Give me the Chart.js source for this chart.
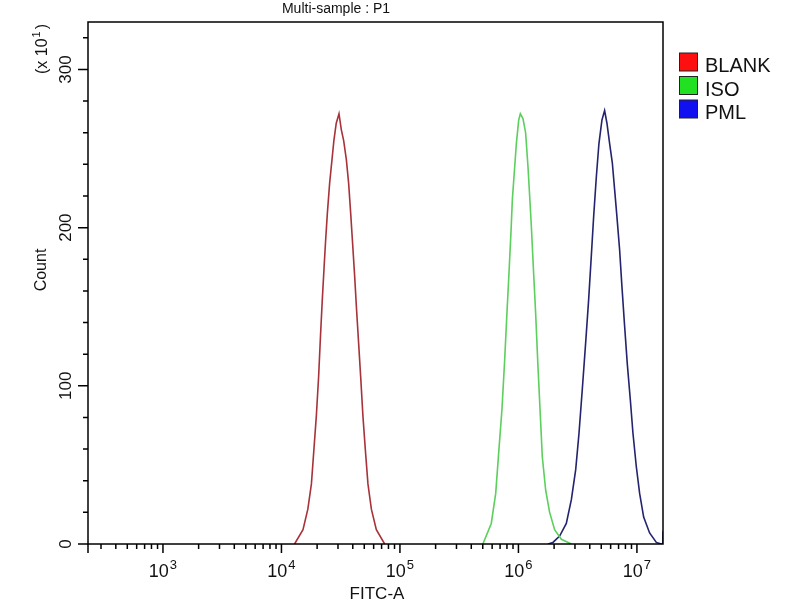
<!DOCTYPE html>
<html>
<head>
<meta charset="utf-8">
<script src="https://cdn.jsdelivr.net/npm/chart.js@4.4.1/dist/chart.umd.min.js"></script>
<style>
  html, body { margin: 0; padding: 0; background: #fff; }
  #wrap { width: 800px; height: 600px; }
</style>
</head>
<body>
<div id="wrap"><canvas id="chart" width="800" height="600"></canvas></div>
<script>
// values (FITC-A intensity, count in units of 10)
const blankX = [12900, 15200, 16700, 17900, 18800, 19700, 20600, 21400, 22100, 22900, 23600, 24400,
  25500, 26700, 27700, 29000, 30600, 32000, 33500, 35300, 36900, 38400, 39700, 41500, 42900, 44800,
  46600, 48700, 51000, 53700, 57400, 63200, 74300]
const blankCount = [0, 9, 22, 38, 60, 81, 106, 133, 154, 175, 192, 209,
  228, 243, 255, 266, 272, 262, 255, 243, 228, 209, 192, 169, 150, 127,
  106, 81, 60, 38, 22, 9, 0]

const isoX = [501000, 590000, 643000, 685000, 726000, 765000, 800000, 832000, 865000, 889000, 917000,
  960000, 1005000, 1038000, 1092000, 1150000, 1203000, 1244000, 1285000, 1344000, 1397000, 1462000,
  1531000, 1591000, 1698000, 1834000, 2021000, 2303000, 2797000]
const isoCount = [0, 13, 32, 60, 85, 116, 146, 171, 197, 218, 232,
  253, 268, 272, 269, 260, 239, 220, 201, 171, 146, 112,
  81, 55, 34, 20, 9, 3, 0]

const pmlX = [1774000, 1955000, 2227000, 2536000, 2797000, 3043000, 3245000, 3461000, 3691000, 3910000,
  4121000, 4314000, 4544000, 4778000, 5066000, 5337000, 5585000, 5888000, 6200000, 6484000, 6780000,
  7145000, 7470000, 7870000, 8290000, 8800000, 9260000, 9880000, 10540000, 11400000, 12800000,
  14580000, 16060000, 16550000, 16600000]
const pmlCount = [0, 1, 5, 13, 28, 47, 70, 98, 127, 154,
  182, 207, 232, 253, 268, 274, 266, 253, 241, 224, 207,
  186, 163, 138, 114, 91, 70, 49, 32, 17, 7,
  1, 0, 0, 8]

const seriesNames = ["BLANK", "ISO", "PML"]
const lineColors = ["#a8323a", "#5ccf5c", "#23236e"]
const swatchColors = ["#ff1010", "#22e022", "#1010f0"]

const yTicks = [0, 20, 40, 60, 80, 100, 120, 140, 160, 180, 200, 220, 240, 260, 280, 300, 320]
const yTickLabels = ["0", "100", "200", "300"]
const xTickExps = [3, 4, 5, 6, 7]

const FONT = '"Liberation Sans", Arial, sans-serif'

const toPoints = (xs, ys) => xs.map((v, i) => ({ x: v, y: ys[i] }))

function drawPow(ctx, base, exp, x, y, size, align) {
  ctx.font = size + "px " + FONT
  const wb = ctx.measureText(base).width
  ctx.font = Math.round(size * 0.7) + "px " + FONT
  const we = ctx.measureText(exp).width
  const start = align === "center" ? x - (wb + we + 1) / 2 : x
  ctx.textAlign = "left"
  ctx.font = size + "px " + FONT
  ctx.fillText(base, start, y)
  ctx.font = Math.round(size * 0.7) + "px " + FONT
  ctx.fillText(exp, start + wb + 1, y - size * 0.45)
}

const cytoAxes = {
  id: "cytoAxes",
  afterDraw(chart) {
    const { ctx, chartArea: a, scales: { x, y } } = chart
    ctx.save()
    ctx.strokeStyle = "#000"
    ctx.fillStyle = "#111"
    ctx.lineWidth = 1.5
    ctx.strokeRect(a.left, a.top, a.right - a.left, a.bottom - a.top)

    // x ticks, log decades with minor ticks
    ctx.beginPath()
    ctx.moveTo(a.left, a.bottom)
    ctx.lineTo(a.left, a.bottom + 9)
    for (let e = 2; e <= 7; e++) {
      for (let m = 1; m <= 9; m++) {
        const v = m * Math.pow(10, e)
        if (v < x.min || v > x.max) continue
        const px = x.getPixelForValue(v)
        ctx.moveTo(px, a.bottom)
        ctx.lineTo(px, a.bottom + (m === 1 ? 9 : 5))
      }
    }
    // y ticks
    yTicks.forEach(v => {
      const py = y.getPixelForValue(v)
      ctx.moveTo(a.left, py)
      ctx.lineTo(a.left - (v % 100 === 0 ? 10 : 5), py)
    })
    ctx.stroke()

    ctx.textBaseline = "alphabetic"
    xTickExps.forEach(e => {
      drawPow(ctx, "10", String(e), x.getPixelForValue(Math.pow(10, e)), 577, 18, "center")
    })

    // rotated y labels
    yTickLabels.forEach(t => {
      ctx.save()
      ctx.translate(71, y.getPixelForValue(Number(t)))
      ctx.rotate(-Math.PI / 2)
      ctx.font = "17px " + FONT
      ctx.textAlign = "center"
      ctx.fillText(t, 0, 0)
      ctx.restore()
    })

    ctx.save()
    ctx.translate(47, 49)
    ctx.rotate(-Math.PI / 2)
    ctx.font = "16px " + FONT
    const w1 = ctx.measureText("(x 10").width
    ctx.font = "11px " + FONT
    const w2 = ctx.measureText("1").width
    ctx.font = "16px " + FONT
    const w3 = ctx.measureText(")").width
    const s = -(w1 + w2 + w3 + 3) / 2
    ctx.textAlign = "left"
    ctx.fillText("(x 10", s, 0)
    ctx.font = "11px " + FONT
    ctx.fillText("1", s + w1 + 1, -7)
    ctx.font = "16px " + FONT
    ctx.fillText(")", s + w1 + w2 + 3, 0)
    ctx.restore()

    ctx.save()
    ctx.translate(46, 270)
    ctx.rotate(-Math.PI / 2)
    ctx.font = "16px " + FONT
    ctx.textAlign = "center"
    ctx.fillText("Count", 0, 0)
    ctx.restore()

    ctx.font = "17px " + FONT
    ctx.textAlign = "center"
    ctx.fillText("FITC-A", 377, 599)
    ctx.font = "14px " + FONT
    ctx.fillText("Multi-sample : P1", 336, 13)

    // legend
    ctx.lineWidth = 1
    seriesNames.forEach((name, i) => {
      const top = 53 + i * 23.5
      ctx.fillStyle = swatchColors[i]
      ctx.fillRect(679.5, top, 18, 18)
      ctx.strokeStyle = "#222"
      ctx.strokeRect(679.5, top, 18, 18)
      ctx.fillStyle = "#111"
      ctx.font = "20px " + FONT
      ctx.textAlign = "left"
      ctx.fillText(name, 705, top + 19)
    })
    ctx.restore()
  }
}

new Chart(document.getElementById("chart"), {
  type: "line",
  data: {
    datasets: [
      { label: seriesNames[0], data: toPoints(blankX, blankCount), borderColor: lineColors[0] },
      { label: seriesNames[1], data: toPoints(isoX, isoCount), borderColor: lineColors[1] },
      { label: seriesNames[2], data: toPoints(pmlX, pmlCount), borderColor: lineColors[2] }
    ]
  },
  options: {
    responsive: false,
    animation: false,
    devicePixelRatio: 1,
    layout: { padding: { left: 88, top: 22, right: 137, bottom: 56 } },
    elements: {
      point: { radius: 0 },
      line: { borderWidth: 1.6, tension: 0, fill: false }
    },
    plugins: { legend: { display: false }, tooltip: { enabled: false } },
    scales: {
      x: { type: "logarithmic", min: 233, max: 16600000, display: false },
      y: { type: "linear", min: 0, max: 330, display: false }
    }
  },
  plugins: [cytoAxes]
})
</script>
</body>
</html>
